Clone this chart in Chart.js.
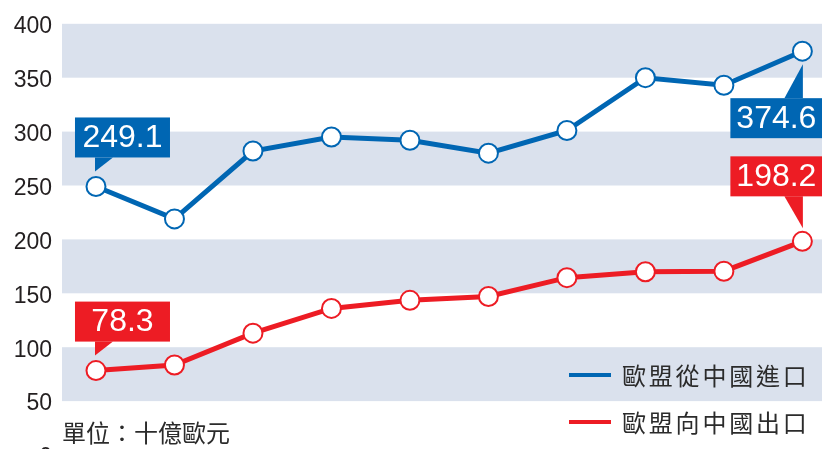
<!DOCTYPE html>
<html>
<head>
<meta charset="utf-8">
<script src="https://cdn.jsdelivr.net/npm/chart.js@4/dist/chart.umd.min.js"></script>
<style>
  html, body { margin: 0; padding: 0; background: #fff; overflow: hidden; width: 822px; height: 449px; }
  #wrap { position: relative; width: 822px; height: 480px; }
  canvas { display: block; }
  .txt { position: absolute; font-family: "Noto Sans CJK TC", "Noto Sans", sans-serif; color: #2b2b2b; white-space: nowrap; }
  .leg { position: absolute; left: 569px; width: 42px; height: 4px; }
</style>
</head>
<body>
<div id="wrap">
  <canvas id="c" width="822" height="480"></canvas>
  <div class="leg" style="top:373px; background:#0066b3;"></div>
  <div class="txt" id="l1" style="left:622px; top:358px; font-size:24px; letter-spacing:2.8px; line-height:34px;"></div>
  <div class="leg" style="top:420px; background:#ed1c24;"></div>
  <div class="txt" id="l2" style="left:622px; top:405px; font-size:24px; letter-spacing:2.8px; line-height:34px;"></div>
  <div class="txt" id="unit" style="left:62px; top:415px; font-size:24px; line-height:34px;"></div>
</div>
<script>
const years = ['2008','2009','2010','2011','2012','2013','2014','2015','2016','2017'];
const importsFromChina = [249.1, 219, 282, 295, 292, 280, 301, 350, 343, 374.6];
const exportsToChina = [78.3, 83.5, 113, 136, 143.5, 147, 164.5, 170, 170.5, 198.2];
const seriesNames = ['歐盟從中國進口', '歐盟向中國出口'];
const unitLabel = '單位：十億歐元';
const yTicks = [0, 50, 100, 150, 200, 250, 300, 350, 400];

document.getElementById('l1').textContent = seriesNames[0];
document.getElementById('l2').textContent = seriesNames[1];
document.getElementById('unit').textContent = unitLabel;

const BLUE = '#0066b3', RED = '#ed1c24', BAND = '#dae1ed';

const bandPlugin = {
  id: 'bands',
  beforeDatasetsDraw(chart) {
    const { ctx, chartArea, scales } = chart;
    const y = scales.y;
    ctx.save();
    ctx.fillStyle = BAND;
    for (let i = 1; i < yTicks.length - 1; i += 2) {
      const top = y.getPixelForValue(yTicks[i + 1]);
      const bot = y.getPixelForValue(yTicks[i]);
      ctx.fillRect(chartArea.left, top, chartArea.right - chartArea.left, bot - top);
    }
    ctx.restore();
  }
};

const callouts = [
  { ds: 0, idx: 0, side: 'left-above' },
  { ds: 1, idx: 0, side: 'left-above' },
  { ds: 0, idx: years.length - 1, side: 'right-below' },
  { ds: 1, idx: years.length - 1, side: 'right-above' }
];

const calloutPlugin = {
  id: 'callouts',
  afterDatasetsDraw(chart) {
    const { ctx } = chart;
    ctx.save();
    callouts.forEach(c => {
      const ds = chart.data.datasets[c.ds];
      const meta = chart.getDatasetMeta(c.ds);
      const pt = meta.data[c.idx];
      const px = pt.x, py = pt.y;
      const val = ds.data[c.idx].y;
      const color = ds.borderColor;
      let bx, by, bw, bh = 40, tri;
      if (c.side === 'left-above') {
        bw = 95; bx = px - 21; by = py - 29 - bh;
        tri = [[px - 1, by + bh], [px + 17, by + bh], [px - 1, py - 15]];
      } else if (c.side === 'right-below') {
        bw = 92; bx = px - 72; by = py + 47;
        tri = [[px - 18, by], [px + 0.5, by], [px + 0.5, py + 13]];
      } else {
        bw = 92; bx = px - 72; by = py - 45 - bh;
        tri = [[px - 18, by + bh], [px + 0.5, by + bh], [px + 0.5, py - 13]];
      }
      ctx.fillStyle = color;
      ctx.fillRect(bx, by, bw, bh);
      ctx.beginPath();
      ctx.moveTo(tri[0][0], tri[0][1]);
      ctx.lineTo(tri[1][0], tri[1][1]);
      ctx.lineTo(tri[2][0], tri[2][1]);
      ctx.closePath();
      ctx.fill();
      ctx.fillStyle = '#ffffff';
      ctx.font = '32px "Liberation Sans", Arial, sans-serif';
      ctx.textAlign = 'center';
      ctx.textBaseline = 'middle';
      ctx.fillText(val.toFixed(1), bx + bw / 2, by + bh / 2 + 1);
    });
    ctx.restore();
  }
};

const toPts = arr => arr.map((v, i) => ({ x: i, y: v }));

new Chart(document.getElementById('c'), {
  type: 'line',
  data: {
    labels: years,
    datasets: [
      {
        label: seriesNames[0],
        data: toPts(importsFromChina),
        borderColor: BLUE,
        backgroundColor: '#ffffff',
        borderWidth: 5,
        pointRadius: 9.5,
        pointBorderWidth: 2,
        pointBackgroundColor: '#ffffff',
        pointBorderColor: BLUE,
        tension: 0,
        clip: false
      },
      {
        label: seriesNames[1],
        data: toPts(exportsToChina),
        borderColor: RED,
        backgroundColor: '#ffffff',
        borderWidth: 5,
        pointRadius: 9.5,
        pointBorderWidth: 2,
        pointBackgroundColor: '#ffffff',
        pointBorderColor: RED,
        tension: 0,
        clip: false
      }
    ]
  },
  options: {
    responsive: false,
    animation: false,
    devicePixelRatio: 1,
    layout: { autoPadding: false, padding: { top: 23, bottom: 25, left: 0, right: 0 } },
    plugins: { legend: { display: false }, tooltip: { enabled: false } },
    scales: {
      x: { type: 'linear', min: -0.433, max: 9.25, display: false },
      y: {
        min: 0, max: 400,
        afterBuildTicks(scale) { scale.ticks = yTicks.map(v => ({ value: v })); },
        afterFit(scale) { scale.width = 62; },
        grid: { display: false, drawTicks: false },
        border: { display: false },
        ticks: {
          color: '#231f20',
          font: { family: '"Liberation Sans", Arial, sans-serif', size: 23 },
          padding: 10,
          labelOffset: 3
        }
      }
    }
  },
  plugins: [bandPlugin, calloutPlugin]
});
</script>
</body>
</html>
